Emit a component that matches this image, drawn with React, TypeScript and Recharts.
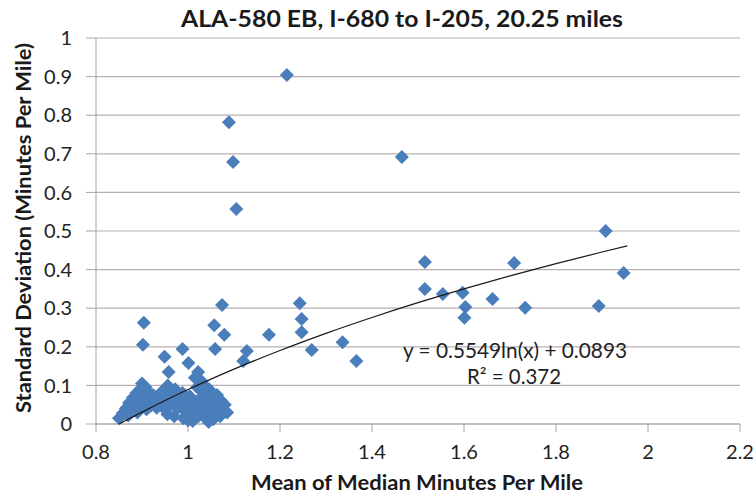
import { ScatterChart, Scatter, XAxis, YAxis, CartesianGrid, Customized } from 'recharts'

// dense cluster near the origin
const clusterX = [
  0.85, 0.858, 0.865, 0.87, 0.872, 0.878, 0.88, 0.884, 0.888, 0.89, 0.893, 0.896, 0.898, 0.9, 0.903,
  0.906, 0.908, 0.91, 0.913, 0.916, 0.92, 0.924, 0.928, 0.932, 0.936, 0.94, 0.944, 0.948, 0.952, 0.956,
  0.96, 0.964, 0.968, 0.972, 0.976, 0.98, 0.984, 0.988, 0.992, 0.996, 1.0, 1.004, 1.008, 1.012, 1.016,
  1.02, 1.022, 1.025, 1.028, 1.03, 1.032, 1.035, 1.038, 1.04, 1.042, 1.045, 1.046, 1.048, 1.05, 1.052,
  1.055, 1.058, 1.06, 1.063, 1.066, 1.07, 1.072, 1.076, 1.08, 1.085, 0.99, 1.0, 1.01, 0.97, 0.955,
  1.035, 1.015,
]
const clusterY = [
  0.015, 0.028, 0.04, 0.022, 0.055, 0.035, 0.068, 0.048, 0.08, 0.03, 0.062, 0.09, 0.045, 0.105, 0.072,
  0.055, 0.095, 0.038, 0.082, 0.065, 0.048, 0.075, 0.058, 0.042, 0.068, 0.052, 0.085, 0.04, 0.062, 0.1,
  0.048, 0.075, 0.058, 0.09, 0.04, 0.068, 0.052, 0.08, 0.035, 0.06, 0.045, 0.072, 0.03, 0.055, 0.04,
  0.095, 0.02, 0.065, 0.048, 0.11, 0.03, 0.08, 0.015, 0.058, 0.038, 0.005, 0.09, 0.025, 0.068, 0.045,
  0.012, 0.055, 0.03, 0.075, 0.04, 0.02, 0.06, 0.035, 0.05, 0.03, 0.015, 0.01, 0.008, 0.02, 0.025,
  0.1, 0.12,
]

// scattered points away from the cluster
const outerX = [
  0.904, 0.902, 0.949, 0.988, 0.958, 1.001, 1.022, 1.074, 1.057, 1.079, 1.059, 1.176, 1.128, 1.12,
  1.215, 1.089, 1.098, 1.105, 1.465, 1.243, 1.247, 1.247, 1.269, 1.336, 1.366, 1.515, 1.515, 1.554,
  1.597, 1.603, 1.601, 1.662, 1.709, 1.733, 1.893, 1.908, 1.947,
]
const outerY = [
  0.262, 0.205, 0.174, 0.194, 0.135, 0.158, 0.135, 0.308, 0.256, 0.231, 0.194, 0.231, 0.189, 0.163,
  0.904, 0.782, 0.679, 0.557, 0.692, 0.313, 0.272, 0.238, 0.192, 0.212, 0.163, 0.42, 0.35, 0.337,
  0.34, 0.303, 0.275, 0.324, 0.417, 0.301, 0.306, 0.5, 0.391,
]

// logarithmic trend line, y = 0.5549ln(x) + 0.0893
const trendX = [0.85, 0.9, 1.0, 1.1, 1.2, 1.3, 1.4, 1.5, 1.6, 1.7, 1.8, 1.9, 1.955]
const trendY = [0.0, 0.0308, 0.0893, 0.1422, 0.1905, 0.2349, 0.276, 0.3143, 0.3501, 0.3837, 0.4155, 0.4455, 0.4613]

const xTicks = [0.8, 1, 1.2, 1.4, 1.6, 1.8, 2, 2.2]
const yTicks = [0, 0.1, 0.2, 0.3, 0.4, 0.5, 0.6, 0.7, 0.8, 0.9, 1]

const points = [
  ...clusterX.map((x, i) => ({ x, y: clusterY[i] })),
  ...outerX.map((x, i) => ({ x, y: outerY[i] })),
]
const trend = trendX.map((x, i) => ({ x, y: trendY[i] }))

const FONT = 'Lato, "Open Sans", sans-serif'

const Diamond = (props: any) => {
  const { cx, cy } = props
  const r = 7
  return (
    <polygon
      points={`${cx},${cy - r} ${cx + r},${cy} ${cx},${cy + r} ${cx - r},${cy}`}
      fill="#4a7ebb"
    />
  )
}

const Labels = () => (
  <g fontFamily={FONT} fill="#1a1a1a">
    <text x={402} y={27} textAnchor="middle" fontSize={22} fontWeight="bold"
      textLength={442} lengthAdjust="spacingAndGlyphs">
      ALA-580 EB, I-680 to I-205, 20.25 miles
    </text>
    <text x={417} y={490} textAnchor="middle" fontSize={21} fontWeight="bold"
      textLength={332} lengthAdjust="spacingAndGlyphs">
      Mean of Median Minutes Per Mile
    </text>
    <text
      transform="translate(31, 228) rotate(-90)"
      textAnchor="middle"
      fontSize={21}
      fontWeight="bold"
      textLength={370}
      lengthAdjust="spacingAndGlyphs"
    >
      Standard Deviation (Minutes Per Mile)
    </text>
    <text x={515} y={358} textAnchor="middle" fontSize={21} fill="#222"
      textLength={224} lengthAdjust="spacingAndGlyphs">
      y = 0.5549ln(x) + 0.0893
    </text>
    <text x={514} y={384} textAnchor="middle" fontSize={21} fill="#222"
      textLength={94} lengthAdjust="spacingAndGlyphs">
      R² = 0.372
    </text>
  </g>
)

export default function App() {
  return (
    <div style={{ position: 'absolute', left: 0, top: 0, background: '#fff' }}>
      <ScatterChart width={756} height={499} margin={{ top: 38, right: 16, bottom: 0, left: 0 }}>
        <CartesianGrid vertical={false} stroke="#b9b1b1" strokeWidth={1.2} />
        <XAxis
          type="number"
          dataKey="x"
          domain={[0.8, 2.2]}
          ticks={xTicks}
          interval={0}
          height={75}
          stroke="#a6a6a6"
          tickSize={8}
          tick={{ fill: '#222', fontSize: 20, fontFamily: FONT }}
          tickMargin={13}
        />
        <YAxis
          type="number"
          dataKey="y"
          domain={[0, 1]}
          ticks={yTicks}
          interval={0}
          width={96}
          stroke="#a6a6a6"
          tickSize={10}
          tick={{ fill: '#222', fontSize: 20, fontFamily: FONT }}
          tickMargin={14}
        />
        <Scatter data={points} shape={Diamond} isAnimationActive={false} />
        <Scatter
          data={trend}
          line={{ stroke: '#1a1a1a', strokeWidth: 1.2 }}
          lineJointType="monotoneX"
          shape={() => <g />}
          isAnimationActive={false}
        />
        <Customized component={Labels} />
      </ScatterChart>
    </div>
  )
}
